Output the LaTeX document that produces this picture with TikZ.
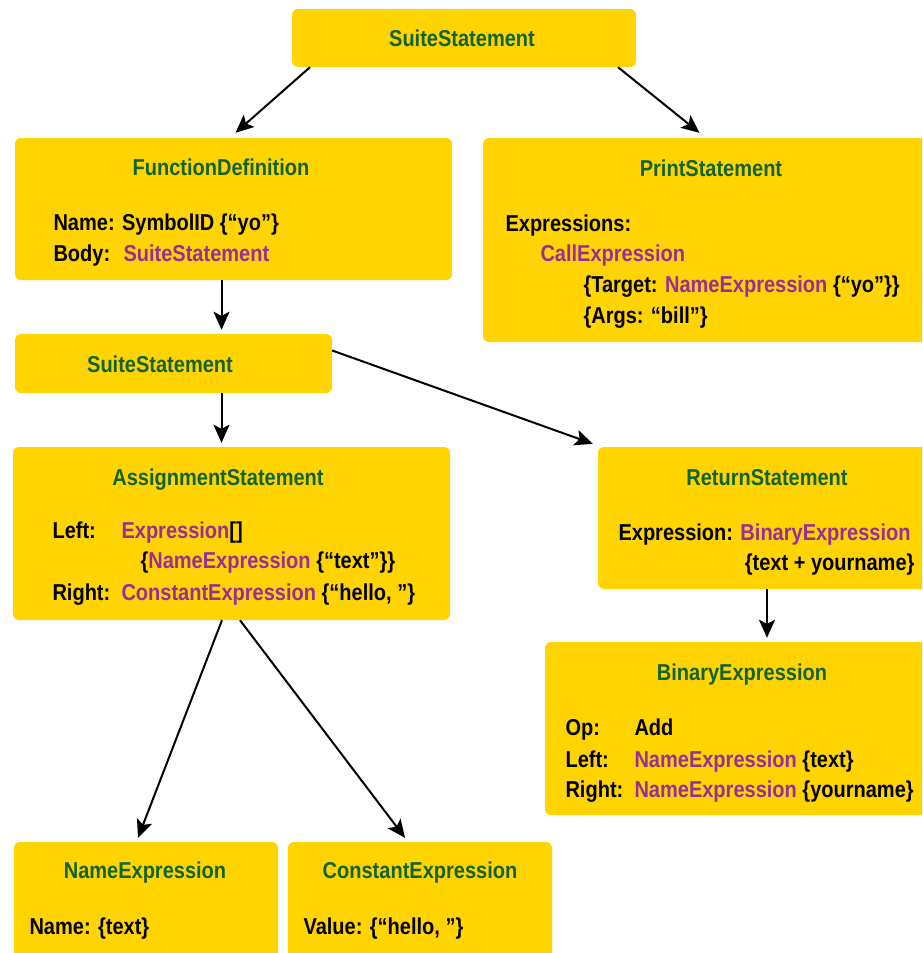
\documentclass[tikz,border=0pt]{standalone}
\usepackage{fontspec}
\setmainfont{Liberation Sans}[FakeStretch=0.87]
\usetikzlibrary{arrows.meta}
\definecolor{boxyellow}{RGB}{255,212,0}
\definecolor{titlegreen}{RGB}{20,98,44}
\definecolor{refpurple}{RGB}{156,44,150}

\begin{document}
\begin{tikzpicture}[x=1pt,y=-1pt,
  box/.style={fill=boxyellow,rounded corners=6pt,inner sep=0pt},
  boxtitle/.style={anchor=base,text=titlegreen,font=\bfseries\fontsize{23}{27}\selectfont},
  boxline/.style={anchor=base west,font=\bfseries\fontsize{23}{27}\selectfont},
  link/.style={line width=2pt,-{Stealth[length=18pt,width=16pt,inset=4pt]}}]

\newcommand\ptype[1]{\textcolor{refpurple}{#1}};

  %% page, cut at right and bottom edge
  \clip (0,0) rectangle (922,953);

  %% boxes
  \node[box,minimum width=344pt,minimum height=58pt] (top) at (464,38) {};
  \node[box,minimum width=437pt,minimum height=142pt] (fundef) at (233.5,209) {};
  \node[box,minimum width=447pt,minimum height=204pt] (print) at (706.5,240) {};
  \node[box,minimum width=317pt,minimum height=59pt] (suite) at (173.5,363.5) {};
  \node[box,minimum width=437pt,minimum height=173pt] (assign) at (231.5,533.5) {};
  \node[box,minimum width=332pt,minimum height=142pt] (ret) at (764,518) {};
  \node[box,minimum width=385pt,minimum height=173pt] (binexp) at (737.5,728.5) {};
  \node[box,minimum width=264pt,minimum height=123pt] (nameexp) at (146,903.5) {};
  \node[box,minimum width=264pt,minimum height=123pt] (constexp) at (420,903.5) {};

  %% titles
  \node[boxtitle] (topT) at (462,46) {SuiteStatement};
  \node[boxtitle] (fundefT) at (221,175) {FunctionDefinition};
  \node[boxtitle] (printT) at (711,176) {PrintStatement};
  \node[boxtitle] (suiteT) at (160,372) {SuiteStatement};
  \node[boxtitle] (assignT) at (218,485) {AssignmentStatement};
  \node[boxtitle] (retT) at (767,485) {ReturnStatement};
  \node[boxtitle] (binexpT) at (742,680) {BinaryExpression};
  \node[boxtitle] (nameexpT) at (145,878) {NameExpression};
  \node[boxtitle] (constexpT) at (420,878) {ConstantExpression};

  %% fields
  \node[boxline] (fundefA) at (50,230) {Name: SymbolID \{“yo”\}};
  \node[boxline] (fundefB) at (50,261) {\makebox[70pt][l]{Body:}\ptype{SuiteStatement}};

  \node[boxline] (printA) at (502,231) {Expressions:};
  \node[boxline] (printB) at (537,261) {\ptype{CallExpression}};
  \node[boxline] (printC) at (580,292) {\{Target: \ptype{NameExpression} \{“yo”\}\}};
  \node[boxline] (printD) at (580,323) {\{Args: “bill”\}};

  \node[boxline] (assignA) at (49,538) {\makebox[69pt][l]{Left:}\ptype{Expression}[]};
  \node[boxline] (assignB) at (137,568) {\{\ptype{NameExpression} \{“text”\}\}};
  \node[boxline] (assignC) at (49,600) {\makebox[69pt][l]{Right:}\ptype{ConstantExpression} \{“hello, ”\}};

  \node[boxline] (retA) at (615,540) {Expression: \ptype{BinaryExpression}};
  \node[boxline,anchor=base east] (retB) at (918,570) {\{text + yourname\}};

  \node[boxline] (binexpA) at (562,735) {\makebox[69pt][l]{Op:}Add};
  \node[boxline] (binexpB) at (562,767) {\makebox[69pt][l]{Left:}\ptype{NameExpression} \{text\}};
  \node[boxline] (binexpC) at (562,797) {\makebox[69pt][l]{Right:}\ptype{NameExpression} \{yourname\}};

  \node[boxline] (nameexpA) at (26,934) {Name: \{text\}};
  \node[boxline] (constexpA) at (300,934) {Value: \{“hello, ”\}};

  %% arrows
  \draw[link] ([xshift=-154pt]top.south) -- ([xshift=2pt,yshift=5pt]fundef.north);
  \draw[link] ([xshift=154pt]top.south) -- ([xshift=-7pt,yshift=5pt]print.north);
  \draw[link] ([xshift=-12pt]fundef.south) -- ([xshift=48pt,yshift=4pt]suite.north);
  \draw[link] ([xshift=48pt]suite.south) -- ([xshift=-10pt,yshift=4pt]assign.north);
  \draw[link] ([yshift=13pt]suite.east) -- ([xshift=-5pt,yshift=3pt]ret.north west);
  \draw[link] ([xshift=3pt]ret.south) -- ([xshift=29.5pt,yshift=4pt]binexp.north);
  \draw[link] ([xshift=-9.5pt]assign.south) -- ([xshift=-8pt,yshift=4pt]nameexp.north);
  \draw[link] ([xshift=8.5pt]assign.south) -- ([xshift=-15pt,yshift=4pt]constexp.north);

\end{tikzpicture}
\end{document}
